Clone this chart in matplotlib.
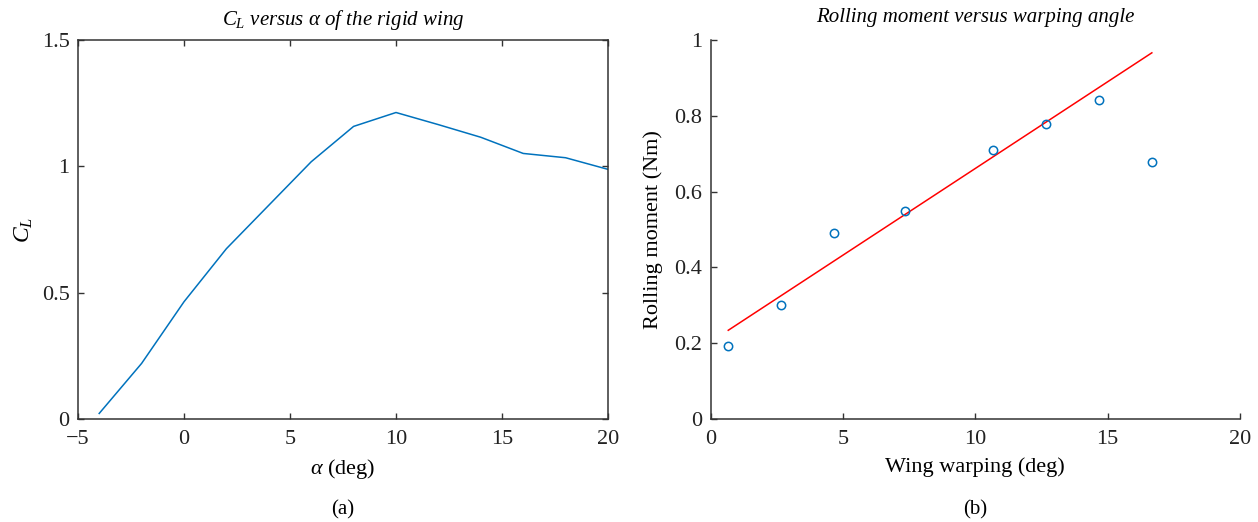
import numpy as np
import matplotlib
matplotlib.use('Agg')
import matplotlib.pyplot as plt

plt.rcParams['font.family'] = ['Liberation Serif', 'DejaVu Serif']
plt.rcParams['mathtext.fontset'] = 'custom'
plt.rcParams['mathtext.rm'] = 'Liberation Serif'
plt.rcParams['mathtext.it'] = 'Liberation Serif:italic'
plt.rcParams['font.size'] = 16

# (a) lift coefficient of the rigid wing
alpha = [-4, -2, 0, 2, 4, 6, 8, 10, 12, 14, 16, 18, 20]
cl = [0.022, 0.22, 0.464, 0.674, 0.846, 1.018, 1.158, 1.213, 1.165, 1.115, 1.051, 1.034, 0.988]

# (b) rolling moment measurements
warp = [0.67, 2.67, 4.67, 7.33, 10.67, 12.67, 14.67, 16.67]
moment = [0.192, 0.300, 0.492, 0.550, 0.710, 0.779, 0.842, 0.679]
n_fit = 7  # last point left out of the linear fit

blue = '#0072BD'

fig = plt.figure(figsize=(12.58, 5.22), dpi=100)
ax1 = fig.add_axes([0.062, 0.1973, 0.4213, 0.7261])
ax2 = fig.add_axes([0.5648, 0.1973, 0.4209, 0.7261])

ax1.plot(alpha, cl, color=blue, lw=1.1)
ax1.set_xlim(-5, 20)
ax1.set_ylim(0, 1.5)
ax1.set_xticks([-5, 0, 5, 10, 15, 20])
ax1.set_xticklabels(['\u22125', '0', '5', '10', '15', '20'])
ax1.set_yticks([0, 0.5, 1, 1.5])
ax1.set_yticklabels(['0', '0.5', '1', '1.5'])
ax1.tick_params(direction='in', top=True, right=True, length=4, width=1)
ax1.set_xlabel(r'$\alpha$ (deg)', fontsize=16, labelpad=6)
ax1.set_ylabel(r'$C_L$', fontsize=17, labelpad=5)
ax1.set_title(r'$C_L$ versus $\alpha$ of the rigid wing', fontsize=15, style='italic', pad=11)
ax1.text(0.5, -0.215, '(a)', transform=ax1.transAxes, ha='center', va='top', fontsize=15)

coef = np.polyfit(warp[:n_fit], moment[:n_fit], 1)
xfit = np.array([warp[0], warp[-1]])
ax2.plot(xfit, np.polyval(coef, xfit), color='#FF0000', lw=1.1)
ax2.plot(warp, moment, 'o', mfc='none', mec=blue, ms=6, mew=1.1)
ax2.set_xlim(0, 20)
ax2.set_ylim(0, 1)
ax2.set_xticks([0, 5, 10, 15, 20])
ax2.set_yticks([0, 0.2, 0.4, 0.6, 0.8, 1])
ax2.set_yticklabels(['0', '0.2', '0.4', '0.6', '0.8', '1'])
ax2.spines['top'].set_visible(False)
ax2.spines['right'].set_visible(False)
ax2.tick_params(direction='in', length=4, width=1)
ax2.set_xlabel('Wing warping (deg)', fontsize=16, labelpad=6)
ax2.set_ylabel('Rolling moment (Nm)', fontsize=16, labelpad=8)
ax2.set_title('Rolling moment versus warping angle', fontsize=15, style='italic', pad=13)
ax2.text(0.5, -0.215, '(b)', transform=ax2.transAxes, ha='center', va='top', fontsize=15)

for ax in (ax1, ax2):
    for s in ax.spines.values():
        s.set_color('#333333')
        s.set_linewidth(1.1)
    ax.tick_params(colors='#333333', labelcolor='#222222')
    ax.tick_params(axis='x', pad=8)
    ax.tick_params(axis='y', pad=6)

fig.savefig('out.png', dpi=100)
